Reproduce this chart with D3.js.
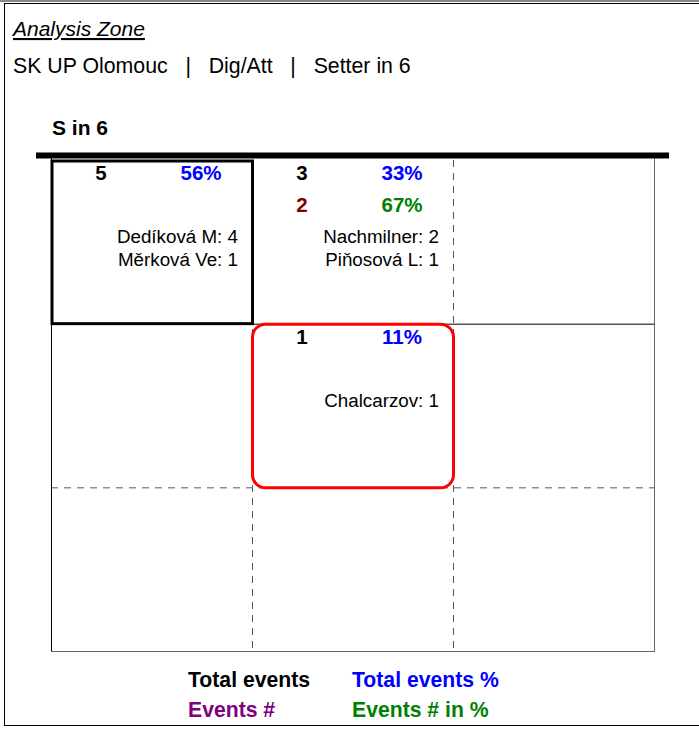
<!DOCTYPE html>
<html lang="en">
<head>
<meta charset="utf-8">
<title>Analysis Zone</title>
<style>
  * { margin: 0; padding: 0; box-sizing: border-box; }
  body { background: #fff; font-family: "Liberation Sans", Arial, sans-serif; overflow: hidden; }
  svg { display: block; }
</style>
</head>
<body>
<svg id="chart" width="699" height="729"></svg>
<script src="https://cdnjs.cloudflare.com/ajax/libs/d3/7.8.5/d3.min.js"></script>
<script>
// data
const title = "Analysis Zone";
const subtitle = ["SK UP Olomouc", "Dig/Att", "Setter in 6"];
const rotation = "S in 6";

const cellCol = [0, 1, 1];
const cellRow = [0, 0, 1];
const totalEvents = [5, 3, 1];
const totalPct = [56, 33, 11];
const eventsNum = [null, 2, null];
const eventsPct = [null, 67, null];
const playerNames = [["Dedíková M", "Měrková Ve"], ["Nachmilner", "Piňosová L"], ["Chalcarzov"]];
const playerCounts = [[4, 1], [2, 1], [1]];

const highlightBlack = { col: 0, row: 0 };
const highlightRed = { col: 1, row: 1 };

const legendItems = [
  { label: "Total events", color: "#000000", col: 0, row: 0 },
  { label: "Total events %", color: "#0000ff", col: 1, row: 0 },
  { label: "Events #", color: "#800080", col: 0, row: 1 },
  { label: "Events # in %", color: "#008000", col: 1, row: 1 }
];

const svg = d3.select("#chart");

// frame
svg.append("line").attr("x1", 0).attr("x2", 699).attr("y1", 1).attr("y2", 1)
  .attr("stroke", "#888").attr("stroke-width", 2);
svg.append("rect").attr("x", 4.5).attr("y", 3.5).attr("width", 800).attr("height", 722)
  .attr("fill", "none").attr("stroke", "#000").attr("stroke-width", 1);

// header
svg.append("text").attr("x", 13).attr("y", 36)
  .attr("font-size", 21).attr("font-style", "italic")
  .attr("text-decoration", "underline").text(title);
svg.append("text").attr("x", 13).attr("y", 73)
  .attr("font-size", 21.3).attr("xml:space", "preserve")
  .text(subtitle.join("   |   "));
svg.append("text").attr("x", 52).attr("y", 135)
  .attr("font-size", 21).attr("font-weight", "bold").text(rotation);

// court scales
const x = d3.scaleBand().domain([0, 1, 2]).range([51, 654]);
const y = d3.scaleBand().domain([0, 1, 2]).range([160, 651]);
const bw = x.bandwidth(), bh = y.bandwidth();

const court = svg.append("g");

// inner grid lines
court.selectAll(".vline").data([1, 2]).join("line")
  .attr("x1", d => x(d) + 0.5).attr("x2", d => x(d) + 0.5)
  .attr("y1", 160).attr("y2", 651)
  .attr("stroke", "#555").attr("stroke-width", 1).attr("stroke-dasharray", "7,6");
court.append("line").attr("x1", 51).attr("x2", 654)
  .attr("y1", y(1) + 0.5).attr("y2", y(1) + 0.5)
  .attr("stroke", "#000").attr("stroke-width", 1);
court.append("line").attr("x1", 51).attr("x2", 654)
  .attr("y1", y(2) + 0.5).attr("y2", y(2) + 0.5)
  .attr("stroke", "#555").attr("stroke-width", 1).attr("stroke-dasharray", "7,6");

// outer court lines
court.append("line").attr("x1", 51.5).attr("x2", 51.5).attr("y1", 158).attr("y2", 651)
  .attr("stroke", "#000");
court.append("line").attr("x1", 654.5).attr("x2", 654.5).attr("y1", 158).attr("y2", 651)
  .attr("stroke", "#666");
court.append("line").attr("x1", 51).attr("x2", 655).attr("y1", 651.5).attr("y2", 651.5)
  .attr("stroke", "#666");

// net
court.append("line").attr("x1", 36).attr("x2", 669).attr("y1", 155.5).attr("y2", 155.5)
  .attr("stroke", "#000").attr("stroke-width", 6);

// highlights
court.append("rect")
  .attr("x", x(highlightBlack.col) + 1).attr("y", y(highlightBlack.row) + 1)
  .attr("width", bw - 0.5).attr("height", bh - 1)
  .attr("fill", "none").attr("stroke", "#000").attr("stroke-width", 3);
court.append("rect")
  .attr("x", x(highlightRed.col) + 0.5).attr("y", y(highlightRed.row) + 0.5)
  .attr("width", bw).attr("height", bh)
  .attr("rx", 13).attr("ry", 13)
  .attr("fill", "none").attr("stroke", "#ff0000").attr("stroke-width", 3);

// cell texts
const cells = totalEvents.map((t, i) => ({
  col: cellCol[i], row: cellRow[i], total: t, pct: totalPct[i],
  num: eventsNum[i], numPct: eventsPct[i],
  names: playerNames[i].map((n, j) => n + ": " + playerCounts[i][j])
}));

const cg = court.selectAll(".cell").data(cells).join("g")
  .attr("transform", d => `translate(${x(d.col)},${y(d.row)})`);

cg.append("text").attr("x", 50).attr("y", 20).attr("text-anchor", "middle")
  .attr("font-size", 20.5).attr("font-weight", "bold").attr("fill", "#000")
  .text(d => d.total);
cg.append("text").attr("x", 150).attr("y", 20).attr("text-anchor", "middle")
  .attr("font-size", 20.5).attr("font-weight", "bold").attr("fill", "#0000ff")
  .text(d => d.pct + "%");
cg.filter(d => d.num != null).append("text").attr("x", 50).attr("y", 52)
  .attr("text-anchor", "middle")
  .attr("font-size", 20.5).attr("font-weight", "bold").attr("fill", "#800000")
  .text(d => d.num);
cg.filter(d => d.numPct != null).append("text").attr("x", 150).attr("y", 52)
  .attr("text-anchor", "middle")
  .attr("font-size", 20.5).attr("font-weight", "bold").attr("fill", "#008000")
  .text(d => d.numPct + "%");
cg.selectAll(".name").data(d => d.names).join("text")
  .attr("class", "name")
  .attr("x", 187).attr("y", (d, j) => 83 + j * 23)
  .attr("text-anchor", "end").attr("font-size", 18.8).attr("fill", "#000")
  .text(d => d);

// legend
svg.append("g").selectAll("text").data(legendItems).join("text")
  .attr("x", d => 188 + d.col * 164).attr("y", d => 687 + d.row * 30)
  .attr("font-size", 21.2).attr("font-weight", "bold").attr("fill", d => d.color)
  .text(d => d.label);
</script>
</body>
</html>
